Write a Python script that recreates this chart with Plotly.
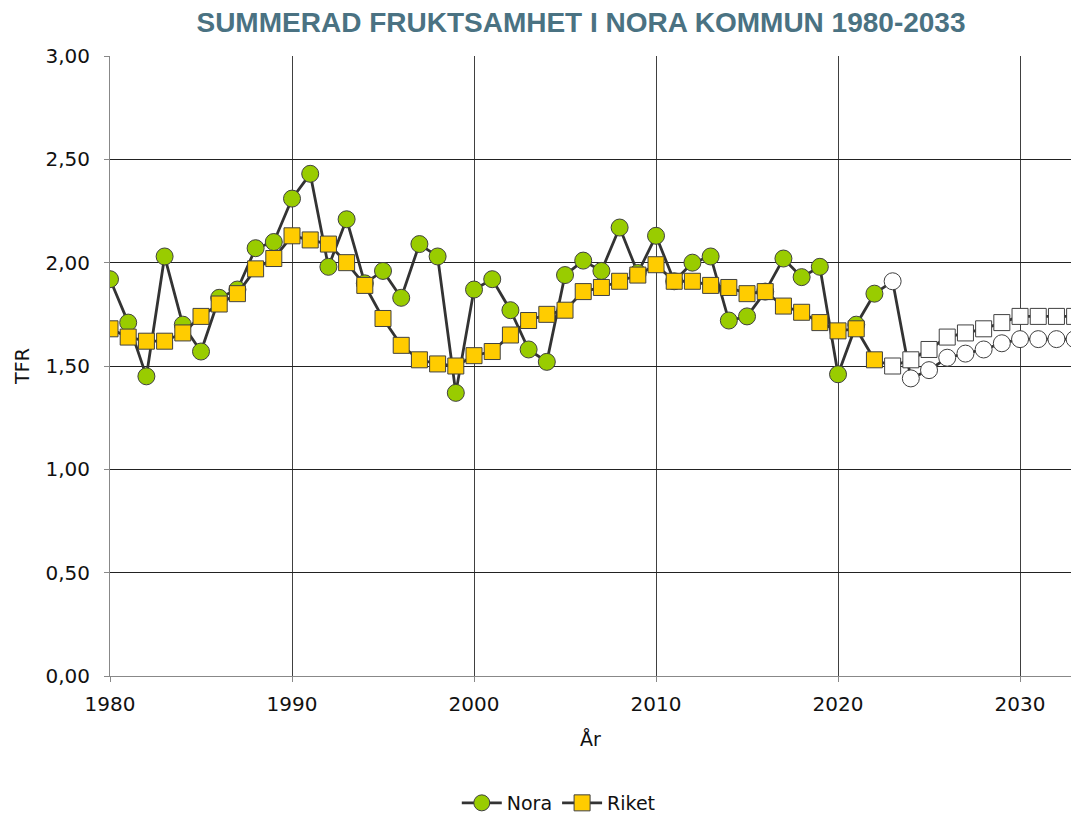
import plotly.graph_objects as go

years = list(range(1980, 2034))
nora = [1.92, 1.71, 1.45, 2.03, 1.70, 1.57, 1.83, 1.87, 2.07, 2.10,
        2.31, 2.43, 1.98, 2.21, 1.90, 1.96, 1.83, 2.09, 2.03, 1.37,
        1.87, 1.92, 1.77, 1.58, 1.52, 1.94, 2.01, 1.96, 2.17, 1.95,
        2.13, 1.91, 2.00, 2.03, 1.72, 1.74, 1.86, 2.02, 1.93, 1.98,
        1.46, 1.70, 1.85, 1.91, 1.44, 1.48, 1.54, 1.56, 1.58, 1.61,
        1.63, 1.63, 1.63, 1.63]
riket = [1.68, 1.64, 1.62, 1.62, 1.66, 1.74, 1.80, 1.85, 1.97, 2.02,
         2.13, 2.11, 2.09, 2.00, 1.89, 1.73, 1.60, 1.53, 1.51, 1.50,
         1.55, 1.57, 1.65, 1.72, 1.75, 1.77, 1.86, 1.88, 1.91, 1.94,
         1.99, 1.91, 1.91, 1.89, 1.88, 1.85, 1.86, 1.79, 1.76, 1.71,
         1.67, 1.68, 1.53, 1.50, 1.53, 1.58, 1.64, 1.66, 1.68, 1.71,
         1.74, 1.74, 1.74, 1.74]
last_actual_year = 2022

GREEN = "#99CC00"
YELLOW = "#FFCC00"
WHITE = "#FFFFFF"
nora_colors = [GREEN if y <= last_actual_year else WHITE for y in years]
riket_colors = [YELLOW if y <= last_actual_year else WHITE for y in years]

fig = go.Figure()
fig.add_trace(go.Scatter(
    x=years, y=nora, name="Nora", mode="lines+markers",
    line=dict(color="#333333", width=2.8),
    marker=dict(symbol="circle", size=17, color=nora_colors,
                line=dict(color="#404040", width=1)),
))
fig.add_trace(go.Scatter(
    x=years, y=riket, name="Riket", mode="lines+markers",
    line=dict(color="#333333", width=2.8),
    marker=dict(symbol="square", size=16, color=riket_colors,
                line=dict(color="#404040", width=1)),
))

fig.update_layout(
    width=1071, height=815,
    margin=dict(l=110, r=0, t=56, b=139),
    paper_bgcolor="white", plot_bgcolor="white",
    separators=", ",
    font=dict(family="DejaVu Sans, sans-serif", size=20, color="#111111"),
    title=dict(text="<b>SUMMERAD FRUKTSAMHET I NORA KOMMUN 1980-2033</b>",
               x=581 / 1071, xanchor="center", y=1 - 22 / 815, yanchor="middle",
               font=dict(family="Liberation Sans, Arial, sans-serif",
                         size=28, color="#4A7282")),
    showlegend=True,
    legend=dict(orientation="h", x=0.467, xanchor="center",
                yref="container", y=1 - 803 / 815, yanchor="middle",
                font=dict(size=19), itemwidth=40),
)
fig.update_xaxes(
    range=[1980, 2032.8], tickvals=[1980, 1990, 2000, 2010, 2020, 2030],
    showgrid=True, gridcolor="#404040", gridwidth=1,
    showline=True, linecolor="#888888", linewidth=1,
    ticks="outside", ticklen=5, tickcolor="#888888",
    ticklabelstandoff=5,
    title=dict(text="År", font=dict(size=19), standoff=17),
    zeroline=False,
)
fig.update_yaxes(
    range=[0, 3], dtick=0.5, tickformat=".2f",
    showgrid=True, gridcolor="#222222", gridwidth=1,
    showline=True, linecolor="#888888", linewidth=1,
    ticks="outside", ticklen=5, tickcolor="#888888",
    ticklabelstandoff=10,
    title=dict(text="TFR", font=dict(size=19), standoff=10),
    zeroline=False,
)

fig.write_html(
    "out.html",
    config={"displayModeBar": False},
    post_script="document.body.style.margin='0px';document.body.style.overflow='hidden';",
)
